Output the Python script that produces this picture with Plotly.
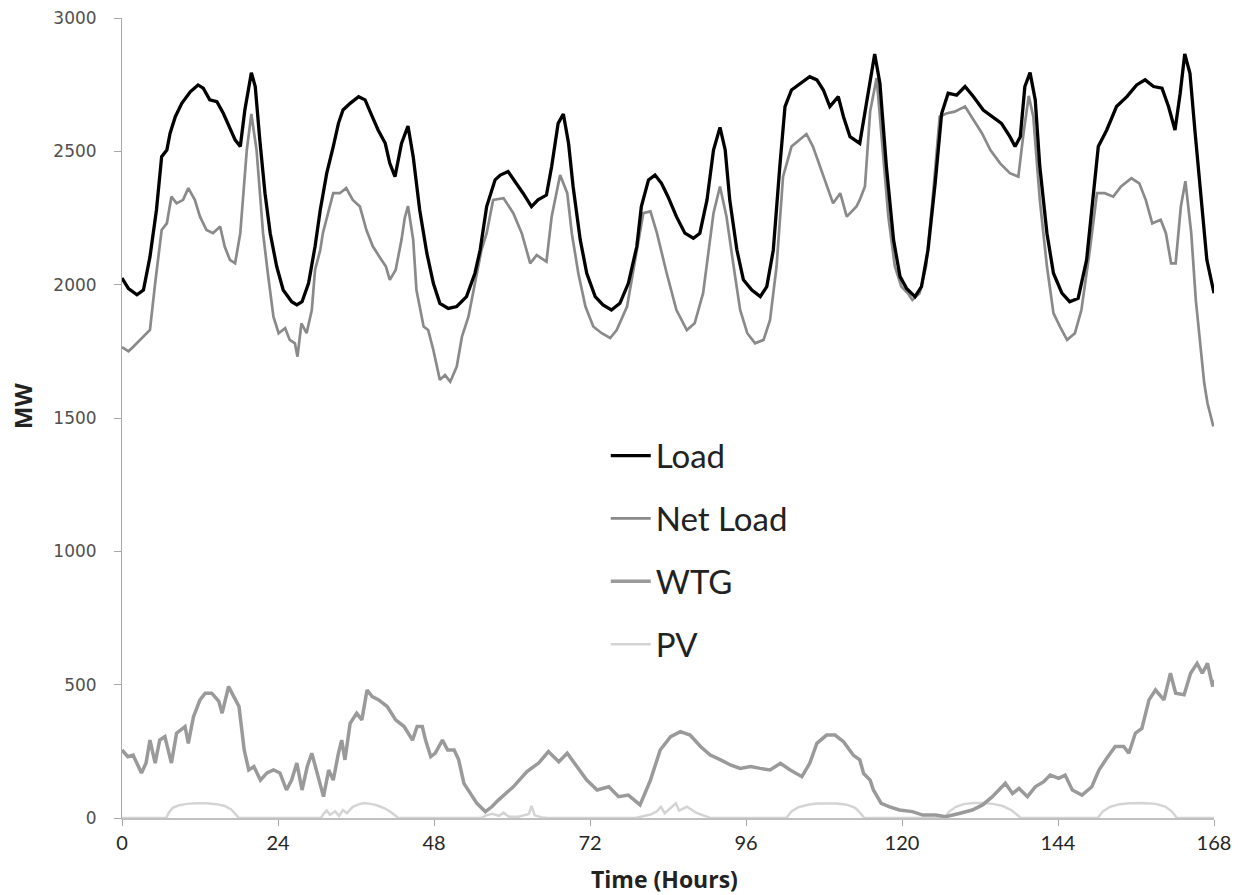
import plotly.graph_objects as go

# ---------------- data ----------------
load_h = [0, 1, 2.3, 3.3, 4.3, 5.3, 6.1, 6.9, 7.4, 8.2, 9.2, 10.5, 11.7, 12.5, 13.5, 14.6, 15.6, 16.6, 17.4, 18.2,
          18.9, 19.9, 20.5, 21.2, 22, 22.8, 23.8, 24.8, 26.1, 26.9, 27.7, 28.7, 29.7, 30.5, 31.5, 32.5, 33.3, 34,
          35.1, 36.4, 37.4, 38.4, 39.4, 40.5, 41.2, 42, 43, 44, 44.8, 45.8, 46.9, 47.9, 48.9, 50.2, 51.5, 53, 54.3,
          55.1, 55.6, 56.1, 57.4, 58.2, 59.4, 60.7, 61.7, 63, 64, 65.3, 66.1, 67.1, 67.9, 68.7, 69.4, 70.5, 71.5,
          72.8, 74, 75.3, 76.6, 77.9, 78.4, 79.2, 79.9, 81, 82, 83, 84, 85.3, 86.6, 87.9, 88.9, 90, 91, 92, 92.8,
          93.5, 94.6, 95.6, 96.9, 98.2, 99.2, 100.2, 101.2, 102, 103, 104.3, 105.8, 106.9, 107.9, 108.9, 110.2,
          111, 112, 113.5, 114.6, 115.8, 116.6, 117.6, 118.7, 119.7, 120.7, 122, 123, 124, 125.1, 126.1, 127.1,
          128.4, 129.7, 131, 132.5, 133.8, 135.3, 136.6, 137.4, 138.2, 138.9, 139.7, 140.5, 141.2, 142.3, 143.3,
          144.6, 145.8, 147.1, 148.4, 149.4, 150.2, 151.5, 153, 154.6, 156.1, 157.4, 158.7, 160, 161, 162, 162.8,
          163.5, 164.3, 165.1, 166.1, 166.9, 168]
load_mw = [2025, 1985, 1962, 1980, 2104, 2280, 2480, 2505, 2568, 2630, 2680, 2723, 2749, 2737, 2693, 2686, 2642,
           2586, 2543, 2518, 2655, 2795, 2743, 2543, 2343, 2193, 2068, 1980, 1936, 1924, 1936, 2005, 2143, 2280,
           2418, 2518, 2605, 2655, 2680, 2705, 2693, 2636, 2580, 2530, 2455, 2405, 2530, 2595, 2480, 2280, 2118,
           2005, 1930, 1911, 1918, 1955, 2043, 2130, 2218, 2293, 2393, 2411, 2424, 2380, 2343, 2293, 2318, 2336,
           2443, 2605, 2640, 2530, 2368, 2168, 2043, 1955, 1924, 1905, 1930, 2005, 2055, 2143, 2293, 2393, 2411,
           2380, 2330, 2255, 2193, 2174, 2193, 2318, 2505, 2590, 2505, 2318, 2130, 2018, 1980, 1955, 1993, 2130,
           2443, 2668, 2730, 2755, 2780, 2768, 2730, 2668, 2705, 2630, 2555, 2530, 2693, 2865, 2755, 2443, 2168,
           2030, 1986, 1955, 1993, 2130, 2380, 2642, 2718, 2711, 2743, 2705, 2655, 2630, 2605, 2555, 2518, 2555,
           2743, 2795, 2693, 2443, 2193, 2043, 1968, 1936, 1949, 2093, 2318, 2518, 2580, 2668, 2705, 2749, 2768,
           2743, 2737, 2668, 2580, 2718, 2865, 2793, 2568, 2293, 2093, 1968]

net_h = [0, 1, 1.7, 3.3, 4.3, 5.1, 6.1, 6.9, 7.6, 8.4, 9.4, 10.2, 11.2, 12, 13, 14, 15.1, 15.8, 16.6, 17.4, 18.2,
         19.2, 19.9, 20.7, 21.7, 22.5, 23.3, 24.1, 25.1, 25.8, 26.6, 27, 27.6, 28.4, 29.2, 29.7, 30.5, 30.9, 31.9,
         32.5, 33.5, 34.5, 35.5, 36.6, 37.6, 38.6, 39.6, 40.6, 41.2, 42.1, 43, 43.5, 44, 44.8, 45.3, 46.4, 47.1,
         47.9, 48.9, 49.7, 50.5, 51.5, 52.3, 53.3, 54.3, 55.3, 56.1, 57.1, 58.7, 60.2, 61.5, 62.8, 63.8, 65.3,
         66.1, 67.4, 68.5, 69.2, 70.2, 71.3, 72.5, 73.8, 75.1, 76.1, 77.7, 79.2, 80.2, 81.3, 82.3, 83.8, 85.3,
         86.9, 88.1, 89.4, 91, 92, 93, 94.1, 95.1, 96.2, 97.4, 98.7, 99.7, 100.7, 101.7, 103, 104.3, 105.3, 106.3,
         107.4, 108.4, 109.4, 110.5, 111.5, 113, 113.5, 114.3, 115.1, 116.1, 116.8, 117.9, 118.9, 119.9, 120.9,
         121.6, 122.7, 123.7, 124.7, 125.8, 126.8, 128.1, 129.7, 131, 132.3, 133.6, 135.1, 136.6, 137.9, 138.7,
         139.5, 140.2, 141.2, 142.3, 143.3, 144.3, 145.4, 146.6, 147.6, 148.9, 150, 151.2, 152.5, 153.7, 155.3,
         156.5, 157.5, 158.5, 159.8, 160.6, 161.4, 162.1, 162.9, 163.6, 164.5, 165.2, 166, 166.5, 167, 167.4,
         167.9]
net_mw = [1766, 1750, 1766, 1804, 1830, 2005, 2205, 2230, 2330, 2305, 2318, 2362, 2318, 2255, 2205, 2193, 2218,
          2143, 2093, 2080, 2193, 2505, 2640, 2505, 2193, 2030, 1880, 1818, 1837, 1793, 1780, 1730, 1855, 1818,
          1905, 2055, 2130, 2193, 2293, 2343, 2343, 2362, 2318, 2293, 2205, 2143, 2105, 2068, 2018, 2055, 2168,
          2250, 2295, 2168, 1980, 1843, 1830, 1755, 1643, 1661, 1636, 1693, 1805, 1880, 2005, 2130, 2193, 2318,
          2324, 2268, 2193, 2080, 2111, 2086, 2255, 2411, 2343, 2193, 2043, 1918, 1843, 1818, 1800, 1830, 1918,
          2130, 2268, 2275, 2193, 2043, 1905, 1830, 1855, 1968, 2268, 2368, 2255, 2068, 1905, 1818, 1780, 1793,
          1868, 2068, 2405, 2518, 2543, 2565, 2518, 2443, 2368, 2305, 2343, 2255, 2293, 2318, 2368, 2650, 2775,
          2568, 2255, 2068, 1993, 1968, 1943, 1968, 2068, 2318, 2630, 2642, 2649, 2668, 2618, 2568, 2505, 2455,
          2418, 2405, 2568, 2708, 2630, 2318, 2068, 1893, 1843, 1793, 1818, 1905, 2130, 2343, 2343, 2330, 2368,
          2399, 2380, 2318, 2230, 2243, 2193, 2080, 2080, 2293, 2388, 2193, 1943, 1755, 1630, 1555, 1518, 1468]

wtg_h = [0, 0.9, 1.7, 3, 3.7, 4.3, 5.1, 5.8, 6.6, 7.6, 8.4, 9.7, 10.2, 11, 12, 12.8, 13.8, 14.9, 15.4, 16.4, 17.2,
         18, 18.8, 19.5, 20.3, 21.3, 22.3, 23.3, 24.3, 25.3, 26.1, 26.9, 27.7, 28.5, 29.2, 30.3, 31, 31.8, 32.5,
         33.3, 33.8, 34.3, 35.1, 36.1, 36.9, 37.7, 38.5, 39.5, 40.8, 42.1, 43.4, 44.7, 45.4, 46.2, 46.7, 47.5,
         48.2, 49.3, 50.1, 51.1, 51.8, 52.6, 53.6, 54.6, 55.9, 56.9, 57.9, 60.2, 62.3, 64.1, 65.6, 67.2, 68.5,
         70, 71.5, 73.1, 74.9, 76.4, 77.9, 79.7, 81.3, 82.8, 84.4, 85.9, 87.4, 89, 90.5, 92.1, 93.6, 95.1, 96.7,
         98.2, 99.7, 101.3, 102.8, 104.6, 105.8, 106.9, 108.4, 109.7, 111, 112.5, 113.5, 114.1, 115.1, 115.6,
         116.8, 118.1, 119.6, 121.6, 123.2, 125.2, 126.7, 128.8, 130.8, 132.4, 133.9, 134.9, 135.9, 137, 138,
         139.3, 140.5, 141.8, 142.8, 144.1, 145.1, 146.2, 147.7, 149.2, 150.3, 151.5, 152.8, 154.1, 154.9,
         155.9, 156.9, 158, 159, 160.3, 161.3, 162.1, 163.4, 164.4, 165.4, 166.2, 167, 167.8, 168]
wtg_mw = [255, 230, 236, 169, 206, 292, 206, 292, 305, 206, 318, 343, 280, 380, 443, 468, 468, 437, 393, 493, 455,
          418, 255, 180, 193, 142, 169, 180, 169, 105, 142, 206, 105, 193, 243, 142, 80, 180, 142, 243, 292, 218,
          355, 393, 368, 480, 455, 443, 418, 368, 343, 292, 343, 343, 292, 230, 243, 292, 255, 255, 218, 130, 92,
          55, 24, 42, 67, 117, 174, 206, 249, 211, 243, 193, 142, 105, 117, 80, 86, 49, 142, 255, 305, 324, 311,
          268, 236, 218, 199, 186, 193, 186, 180, 205, 180, 155, 205, 280, 311, 311, 286, 236, 218, 167, 142, 105,
          55, 42, 30, 24, 11, 11, 5, 17, 30, 49, 80, 105, 130, 92, 111, 80, 117, 136, 161, 149, 161, 105, 86, 117,
          180, 224, 268, 268, 243, 318, 336, 443, 480, 443, 543, 468, 462, 543, 580, 543, 580, 493, 518]

pv_h = [0, 6.8, 7.2, 7.8, 8.8, 10, 11.5, 13, 14.5, 15.8, 16.8, 17.5, 18,
        30.6, 31, 31.5, 32, 32.8, 33.4, 34, 34.6, 35.5, 36.5, 37.3, 38.5, 39.5, 40.5, 41.5, 42.2, 42.5,
        55.3, 56, 57, 58, 58.7, 59.5, 61, 62.6, 63, 63.5, 64.5, 65.5,
        79, 80.5, 81.3, 82.3, 82.9, 83.5, 84.3, 85.2, 85.7, 86.9, 88.3, 89.5, 90.5,
        102.2, 103, 104, 105.5, 107, 108.5, 110, 111.5, 112.8, 113.6, 114.2,
        126.5, 127.3, 128.3, 129.5, 131, 132.5, 134, 135.5, 136.8, 137.7, 138.3,
        150.1, 150.9, 152, 153.5, 155, 157, 159, 160.5, 161.5, 162.3, 168]
pv_mw = [0, 0, 20, 38, 48, 53, 55, 55, 52, 45, 32, 15, 0,
         0, 15, 28, 12, 25, 8, 30, 18, 42, 52, 56, 52, 45, 35, 20, 5, 0,
         0, 10, 16, 8, 20, 5, 5, 15, 45, 10, 3, 0,
         0, 8, 13, 25, 42, 18, 35, 55, 28, 42, 20, 8, 0,
         0, 25, 40, 50, 54, 55, 54, 50, 38, 18, 0,
         0, 25, 42, 52, 56, 56, 53, 45, 30, 12, 0,
         0, 25, 42, 52, 55, 56, 53, 43, 25, 0, 0]

x_ticks = [0, 24, 48, 72, 96, 120, 144, 168]
y_ticks = [0, 500, 1000, 1500, 2000, 2500, 3000]

# ---------------- figure ----------------
fig = go.Figure()
fig.add_trace(go.Scatter(x=pv_h, y=pv_mw, mode="lines", name="PV", legendgroup="d", legendrank=4,
                         line=dict(color="#d4d4d4", width=2.5)))
fig.add_trace(go.Scatter(x=wtg_h, y=wtg_mw, mode="lines", name="WTG", legendgroup="c", legendrank=3,
                         line=dict(color="#9a9a9a", width=3.5)))
fig.add_trace(go.Scatter(x=net_h, y=net_mw, mode="lines", name="Net Load", legendgroup="b", legendrank=2,
                         line=dict(color="#8a8a8a", width=2.7)))
fig.add_trace(go.Scatter(x=load_h, y=load_mw, mode="lines", name="Load", legendgroup="a", legendrank=1,
                         line=dict(color="#000000", width=3.3)))

fig.update_layout(
    width=1238, height=895,
    margin=dict(l=122, r=24, t=18, b=77, autoexpand=False),
    paper_bgcolor="white", plot_bgcolor="white",
    font=dict(family="Lato, sans-serif", color="#222222"),
    showlegend=True,
    legend=dict(x=0.443, y=0.488, xanchor="left", yanchor="top",
                font=dict(family="Lato, sans-serif", size=33, color="#222222"),
                traceorder="grouped", tracegroupgap=17, itemwidth=40,
                bgcolor="rgba(0,0,0,0)"),
    xaxis=dict(range=[0, 168], tickvals=x_ticks, ticktext=[str(v) for v in x_ticks], automargin=False,
               showgrid=False, zeroline=False, showline=True, linecolor="#c0c0c0", linewidth=2,
               ticks="outside", ticklen=6, tickcolor="#a8a8a8", tickwidth=1, ticklabeloverflow="allow",
               tickfont=dict(family="Lato, sans-serif", size=20, color="#262626")),
    yaxis=dict(range=[0, 3000], tickvals=y_ticks, ticktext=[str(v) for v in y_ticks], automargin=False,
               showgrid=False, zeroline=False, showline=True, linecolor="#a8a8a8", linewidth=1,
               ticks="outside", ticklen=7, tickcolor="#a8a8a8", tickwidth=1, ticklabelstandoff=14,
               ticklabeloverflow="allow",
               tickfont=dict(family="DejaVu Sans, sans-serif", size=17, color="#505050")),
    annotations=[
        dict(text="<b>MW</b>", x=-0.0916, y=0.516, xref="paper", yref="paper", showarrow=False,
             xanchor="center", yanchor="middle", textangle=-90,
             font=dict(family="Open Sans, sans-serif", size=24, color="#222222")),
        dict(text="<b>Time (Hours)</b>", x=0.497, y=-0.0765, xref="paper", yref="paper", showarrow=False,
             xanchor="center", yanchor="middle",
             font=dict(family="Open Sans, sans-serif", size=23, color="#222222")),
    ],
)

# remove the default 8px page margin so the 1238x895 figure fills the window exactly
fig.write_html("out.html", config={"displayModeBar": False},
               post_script="document.body.style.margin='0px';document.body.style.overflow='hidden';")
